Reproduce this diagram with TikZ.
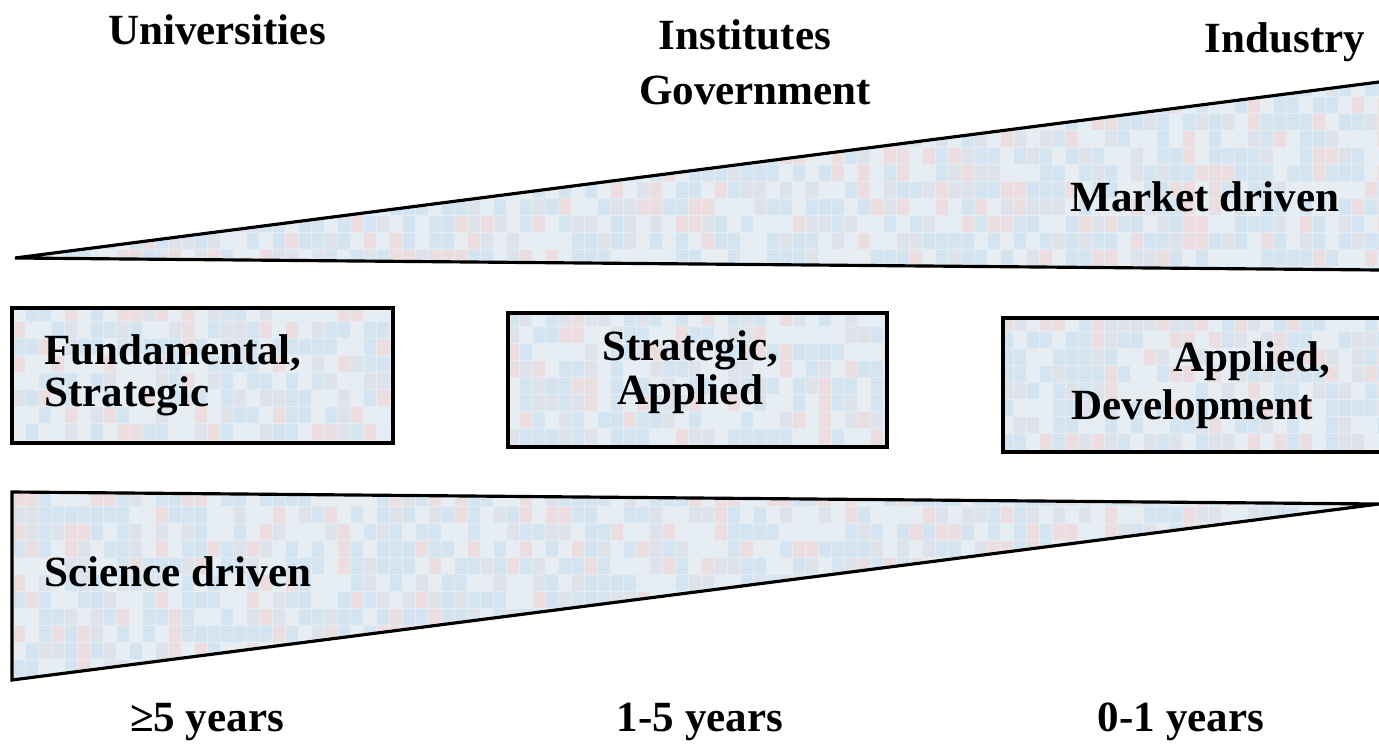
\documentclass[tikz,border=0pt]{standalone}
\usepackage{fontspec}
\setmainfont{Liberation Serif}
\usetikzlibrary{positioning}
\definecolor{tileblue}{RGB}{212,228,240}
\definecolor{tilepink}{RGB}{236,222,224}
\definecolor{tilegray}{RGB}{222,226,234}
\definecolor{tilebase}{RGB}{230,237,243}
\pgfmathdeclarerandomlist{tiles}{{tileblue}{tilepink}{tilegray}{tilebase}{tilebase}{tileblue}}
\newcommand{\Mosaic}[3]{
	\fill[tilebase] (0,#1) rectangle (1379,#3);
	\foreach \cy in {#1,#2,...,#3}{
		\foreach \cx in {0,13,...,1378}{
			\pgfmathrandomitem{\tile}{tiles}
			\fill[\tile] (\cx,\cy) rectangle ++(12,16);
		}
	}
}

\begin{document}
\begin{tikzpicture}[x=0.02cm,y=-0.02cm,line width=1.8pt,
	lbl/.style={font=\fontsize{24.5}{22}\selectfont\bfseries,inner sep=0pt}]
	\useasboundingbox (0,0) rectangle (1379,750);
	\pgfmathsetseed{7}
	% market wedge
	\begin{scope}
		\clip (15,258) -- (1379,82) -- (1379,270) -- cycle;
		\Mosaic{80}{97}{270}
	\end{scope}
	\draw (1379,82) -- (15,258) -- (1379,270);
	% the three boxes
	\begin{scope}
		\clip (12,308) rectangle (393,443);
		\Mosaic{305}{322}{445}
	\end{scope}
	\draw (12,308) rectangle (393,443);
	\begin{scope}
		\clip (508,313) rectangle (887,447);
		\Mosaic{310}{327}{450}
	\end{scope}
	\draw (508,313) rectangle (887,447);
	\begin{scope}
		\clip (1003,318) rectangle (1379,452);
		\Mosaic{315}{332}{455}
	\end{scope}
	\draw (1385,318) -- (1003,318) -- (1003,452) -- (1385,452);
	% science wedge
	\begin{scope}
		\clip (12,492) -- (1379,504) -- (12,680) -- cycle;
		\Mosaic{490}{507}{680}
	\end{scope}
	\draw (12,492) -- (1379,504) -- (12,680) -- cycle;
	% labels
	\node[lbl] (univ) at (217,30) {Universities};
	\node[lbl] (inst) at (745,35) {Institutes};
	\node[lbl] (gov) at (755,90) {Government};
	\node[lbl] (ind) at (1285,42) {Industry};
	\node[lbl] (market) at (1205,197) {Market driven};
	\node[lbl,align=left,anchor=west] (fund) at (43,375) {Fundamental,\\[2pt]Strategic};
	\node[lbl,align=center] (strat) at (690,372) {Strategic,\\[2pt]Applied};
	\node[lbl,align=right,anchor=east] (appl) at (1332,385) {Applied,\\[4pt]Development\hspace*{0.4em}};
	\node[lbl,anchor=west] (sci) at (43,572) {Science driven};
	\node[lbl] (long) at (207,722) {≥5 years};
	\node[lbl] (mid) at (700,722) {1-5 years};
	\node[lbl] (short) at (1181,722) {0-1 years};
\end{tikzpicture}
\end{document}
